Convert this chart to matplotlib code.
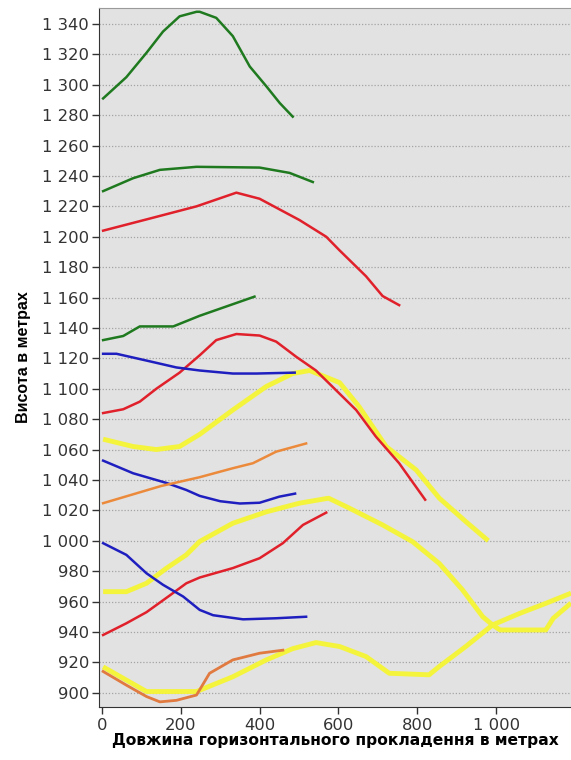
import matplotlib.pyplot as plt
from matplotlib.ticker import FuncFormatter

plt.rcParams['font.family'] = ['DejaVu Sans']

# профілі: відстань (м) / висота (м)
green1_x = [3, 62, 113, 155, 197, 240, 248, 290, 332, 375, 417, 451, 484]
green1_y = [1291, 1305, 1321, 1335, 1345, 1348, 1348, 1344, 1332, 1312, 1299, 1288, 1279]

green2_x = [3, 79, 147, 240, 400, 476, 535]
green2_y = [1230, 1238.5, 1244, 1246, 1245.5, 1242, 1236]

red1_x = [3, 122, 240, 341, 400, 501, 569, 603, 670, 712, 754]
red1_y = [1204, 1212, 1220, 1229, 1225, 1211, 1200, 1191, 1174, 1161, 1155]

green3_x = [3, 54, 96, 181, 248, 387]
green3_y = [1132, 1134.7, 1141, 1141, 1148, 1160.6]

blue1_x = [3, 37, 122, 189, 248, 332, 392, 489]
blue1_y = [1123, 1123, 1118, 1114, 1112, 1110, 1110, 1110.6]

red2_x = [3, 54, 96, 138, 197, 248, 290, 341, 400, 442, 493, 543, 594, 645, 695, 754, 820]
red2_y = [1084, 1086.5, 1091.5, 1100, 1110.6, 1122, 1132, 1136, 1135, 1131, 1121, 1112, 1099, 1086, 1068.5, 1051, 1027]

yellow1_x = [3, 79, 138, 197, 248, 332, 417, 484, 527, 603, 653, 721, 797, 856, 923, 980]
yellow1_y = [1066.8, 1062, 1060, 1062, 1070, 1086, 1101.5, 1110, 1112, 1104, 1088, 1062, 1046.6, 1028, 1012.6, 1000]

blue2_x = [3, 79, 164, 214, 248, 300, 350, 400, 450, 490]
blue2_y = [1052.7, 1044.4, 1038, 1033.4, 1029.5, 1026, 1024.5, 1025, 1029, 1031]

orange1_x = [3, 150, 248, 332, 383, 442, 518]
orange1_y = [1024.7, 1036, 1041.8, 1047.7, 1051, 1058.6, 1064]

yellow2_x = [3, 62, 113, 164, 214, 248, 332, 417, 501, 575, 628, 712, 788, 856, 915, 966, 991, 1010, 1126, 1145, 1190]
yellow2_y = [966.5, 966.5, 972, 982, 990.7, 999.5, 1011.5, 1019, 1024.7, 1028, 1021.4, 1010.4, 999.4, 985, 967.6, 950, 944.6, 941.3, 941.3, 949, 959]

blue3_x = [3, 62, 113, 155, 206, 248, 282, 358, 442, 518]
blue3_y = [998.4, 990.7, 978.6, 971, 963.3, 954.5, 951, 948.3, 949, 950]

red3_x = [3, 62, 113, 172, 214, 248, 332, 400, 459, 510, 569]
red3_y = [938, 945.7, 953, 964, 972, 975.8, 982, 988.5, 998.4, 1010.4, 1018.5]

yellow3_x = [3, 113, 240, 332, 417, 484, 543, 603, 670, 729, 830, 856, 923, 991, 1058, 1126, 1190]
yellow3_y = [917, 900.8, 900.8, 910.5, 921.6, 929, 933, 930.4, 923.8, 912.8, 911.8, 917.3, 930.4, 944.6, 952, 958.8, 965.5]

orange2_x = [3, 62, 113, 147, 189, 240, 273, 332, 400, 459]
orange2_y = [914, 905, 897.5, 894, 895, 898.5, 912.8, 921.6, 926, 928]

GREEN = '#1f7a1f'
RED = '#e0202a'
BLUE = '#1f1fc0'
YELLOW = '#f4f43c'
ORANGE = '#ec8a3c'

fig = plt.figure(figsize=(5.71, 7.6), dpi=100)
ax = fig.add_axes([0.173, 0.0697, 0.827, 0.9198])
ax.set_facecolor('#e2e2e2')

# жовті лінії товщі - малюємо першими
ax.plot(yellow1_x, yellow1_y, color=YELLOW, lw=3.5, solid_capstyle='butt')
ax.plot(yellow2_x, yellow2_y, color=YELLOW, lw=3.5, solid_capstyle='butt')
ax.plot(yellow3_x, yellow3_y, color=YELLOW, lw=3.5, solid_capstyle='butt')

ax.plot(green1_x, green1_y, color=GREEN, lw=1.8)
ax.plot(green2_x, green2_y, color=GREEN, lw=1.8)
ax.plot(green3_x, green3_y, color=GREEN, lw=1.8)
ax.plot(red1_x, red1_y, color=RED, lw=1.8)
ax.plot(red2_x, red2_y, color=RED, lw=1.8)
ax.plot(red3_x, red3_y, color=RED, lw=1.8)
ax.plot(blue1_x, blue1_y, color=BLUE, lw=1.8)
ax.plot(blue2_x, blue2_y, color=BLUE, lw=1.8)
ax.plot(blue3_x, blue3_y, color=BLUE, lw=1.8)
ax.plot(orange1_x, orange1_y, color=ORANGE, lw=1.8)
ax.plot(orange2_x, orange2_y, color='#e07a40', lw=2.0)

ax.set_xlim(-8, 1190)
ax.set_ylim(890.6, 1350.5)
ax.set_xticks([0, 200, 400, 600, 800, 1000])
ax.set_yticks(range(900, 1341, 20))

sep = FuncFormatter(lambda v, p: f'{int(v):,}'.replace(',', ' '))
ax.xaxis.set_major_formatter(sep)
ax.yaxis.set_major_formatter(sep)

ax.grid(axis='y', color='#a4a4a4', linestyle=(0, (1, 1.5)), lw=0.9)
ax.set_axisbelow(True)
ax.tick_params(axis='both', direction='out', length=5, width=1, colors='#333333', labelsize=11.8)
ax.tick_params(axis='y', pad=2)
ax.tick_params(axis='x', pad=3)

ax.spines['right'].set_visible(False)
ax.spines['top'].set_color('#9a9a9a')
ax.spines['left'].set_color('#333333')
ax.spines['bottom'].set_color('#333333')

ax.set_ylabel('Висота в метрах', fontsize=11.5, fontweight='bold',
              family=['Liberation Sans'], labelpad=8)
ax.set_xlabel('Довжина горизонтального прокладення в метрах', fontsize=11.2,
              fontweight='bold', labelpad=0)

fig.savefig('out.png', dpi=100)
